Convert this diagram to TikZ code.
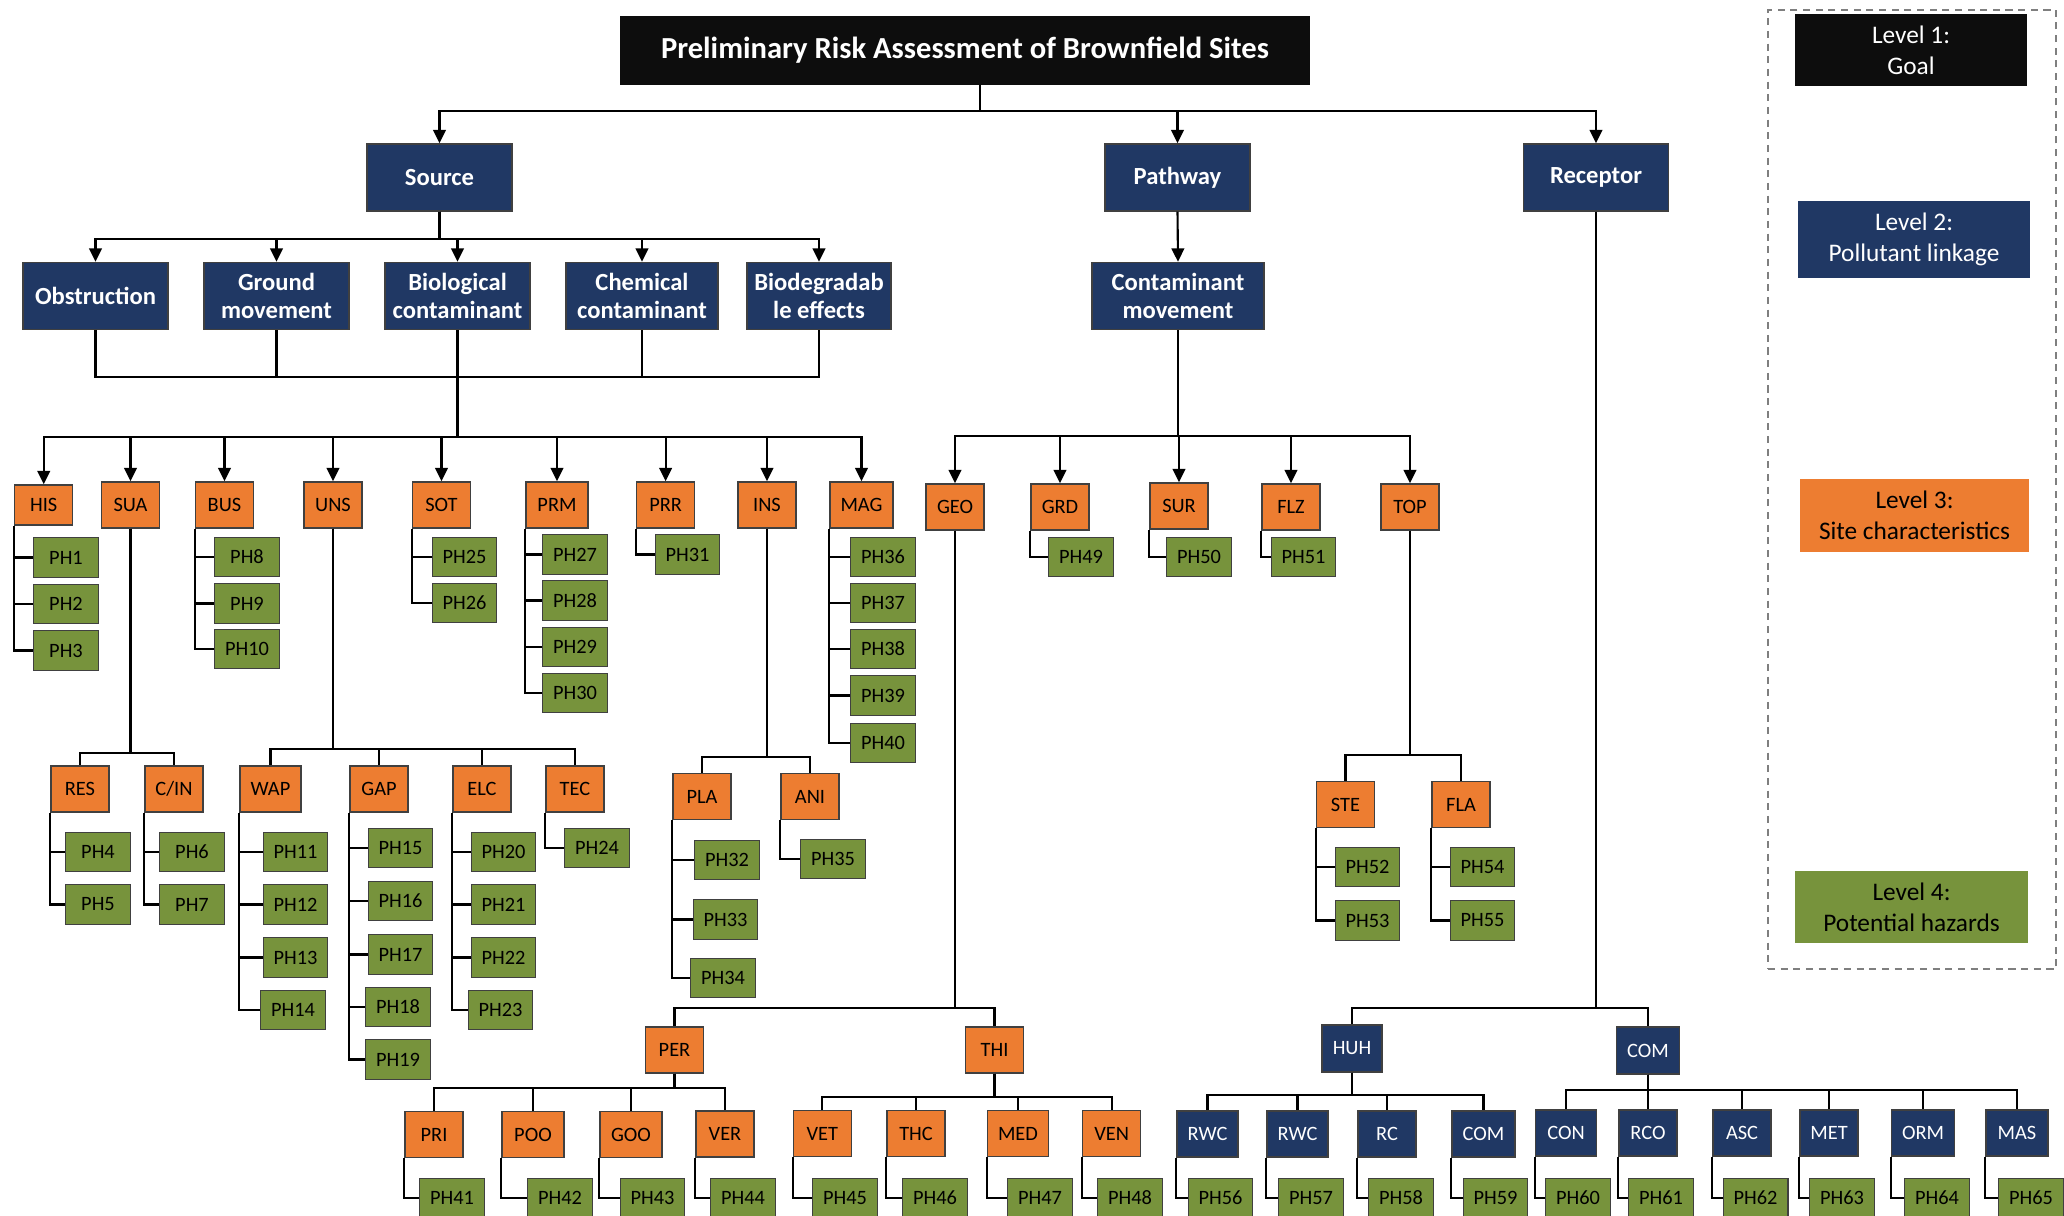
\documentclass[tikz,border=0pt]{standalone}
\usepackage{fontspec}
\setmainfont{Carlito}
\usetikzlibrary{arrows.meta,positioning,calc}

\definecolor{goalblack}{HTML}{0D0D0D}
\definecolor{linknavy}{HTML}{203864}
\definecolor{siteorange}{HTML}{ED7D31}
\definecolor{hazgreen}{HTML}{77933C}
\definecolor{edgegray}{HTML}{404040}
\definecolor{legendgray}{HTML}{7F7F7F}

\begin{document}
\begin{tikzpicture}[
  x=0.01cm, y=-0.01cm,
  >={Triangle[length=3.8pt,width=3.6pt]},
  goalbox/.style={rectangle, fill=goalblack, draw=goalblack, text=white,
                  minimum width=6.88cm, minimum height=0.67cm, font=\fontsize{8.7}{10}\selectfont\bfseries},
  linkbox/.style={rectangle, fill=linknavy, draw=edgegray, line width=0.4pt, text=white,
                  minimum width=1.45cm, minimum height=0.67cm, align=center, inner sep=1pt,
                  font=\fontsize{7}{7.8}\selectfont\bfseries},
  sitebox/.style={rectangle, fill=siteorange, draw=edgegray, line width=0.4pt,
                  minimum width=0.58cm, minimum height=0.46cm, inner sep=1pt, font=\fontsize{5.8}{7}\selectfont},
  recbox/.style={sitebox, fill=linknavy, text=white},
  hazbox/.style={rectangle, fill=hazgreen, draw=edgegray, line width=0.4pt,
                 minimum width=0.645cm, minimum height=0.395cm, inner sep=1pt, font=\fontsize{5.8}{7}\selectfont},
  legbox/.style={rectangle, minimum width=2.32cm, minimum height=0.67cm, align=center,
                 font=\fontsize{7.2}{8.8}\selectfont},
  branch/.style={->, line width=0.6pt, draw=black},
  wire/.style={line width=0.6pt, draw=black},
]
\path[use as bounding box, clip] (0,0) rectangle (2064,1216);

% level 1 and 2
\node[goalbox] (goal) at (965,50.5) {Preliminary Risk Assessment of Brownfield Sites};
\node[linkbox] (src) at (439.5,177.5) {Source};
\node[linkbox] (pth) at (1177.5,177.5) {Pathway};
\node[linkbox] (rcp) at (1596,177.5) {Receptor};

\node[linkbox] (obs) at (95.5,296) {Obstruction};
\node[linkbox] (gmv) at (276.5,296) {Ground\\movement};
\node[linkbox] (bio) at (457.5,296) {Biological\\contaminant};
\node[linkbox, minimum width=1.52cm] (chm) at (642,296) {Chemical\\contaminant};
\node[linkbox, minimum width=1.44cm] (bdg) at (819,296) {Biodegradab\\le effects};
\node[linkbox, minimum width=1.72cm] (cmv) at (1178,296) {Contaminant\\movement};

% level 3, source side
\node[sitebox, minimum height=0.40cm] (his) at (43.75,505) {HIS};
\node[sitebox] (sua) at (130.5,505) {SUA};
\node[sitebox] (bus) at (224.5,505) {BUS};
\node[sitebox] (uns) at (333,505) {UNS};
\node[sitebox] (sot) at (441.5,505) {SOT};
\node[sitebox, minimum width=0.62cm] (prm) at (557,505) {PRM};
\node[sitebox] (prr) at (665.6,505) {PRR};
\node[sitebox] (ins) at (767,505) {INS};
\node[sitebox, minimum width=0.63cm] (mag) at (861.5,505) {MAG};

\node[sitebox] (res) at (80,789) {RES};
\node[sitebox] (cin) at (174,789) {C/IN};
\node[sitebox, minimum width=0.61cm] (wap) at (270.5,789) {WAP};
\node[sitebox] (gap) at (379,789) {GAP};
\node[sitebox] (elc) at (482,789) {ELC};
\node[sitebox] (tec) at (575,789) {TEC};
\node[sitebox] (pla) at (702,796.5) {PLA};
\node[sitebox] (ani) at (810,796.5) {ANI};

% level 3, pathway side
\node[sitebox] (geo) at (955,507) {GEO};
\node[sitebox] (grd) at (1060,507) {GRD};
\node[sitebox] (sur) at (1179,506) {SUR};
\node[sitebox] (flz) at (1291,507) {FLZ};
\node[sitebox] (topo) at (1410,507) {TOP};
\node[sitebox] (ste) at (1345.5,804.5) {STE};
\node[sitebox] (fla) at (1461,804.5) {FLA};

\node[sitebox] (per) at (674.5,1050) {PER};
\node[sitebox] (thi) at (994.5,1050) {THI};
\node[sitebox] (pri) at (434,1134.5) {PRI};
\node[sitebox, minimum width=0.62cm] (poo) at (533,1134.5) {POO};
\node[sitebox, minimum width=0.62cm] (goo) at (631,1134.5) {GOO};
\node[sitebox] (ver) at (725,1134) {VER};
\node[sitebox] (vet) at (822.4,1133.5) {VET};
\node[sitebox] (thc) at (916,1133.5) {THC};
\node[sitebox, minimum width=0.61cm] (med) at (1018,1133.5) {MED};
\node[sitebox] (ven) at (1111.6,1133.5) {VEN};

% receptor side
\node[recbox, minimum width=0.60cm, minimum height=0.47cm] (huh) at (1352,1048.5) {HUH};
\node[recbox, minimum width=0.63cm, minimum height=0.47cm] (com) at (1648,1050.5) {COM};
\node[recbox, minimum width=0.61cm] (rwca) at (1207.5,1134) {RWC};
\node[recbox, minimum width=0.61cm] (rwcb) at (1297.5,1134) {RWC};
\node[recbox] (rc) at (1387,1134) {RC};
\node[recbox, minimum width=0.63cm] (comh) at (1483.5,1134) {COM};
\node[recbox, minimum width=0.61cm] (con) at (1566,1133) {CON};
\node[recbox] (rco) at (1648,1133) {RCO};
\node[recbox] (asc) at (1742,1133) {ASC};
\node[recbox] (met) at (1829,1133) {MET};
\node[recbox, minimum width=0.63cm] (orm) at (1923,1133) {ORM};
\node[recbox, minimum width=0.62cm] (mas) at (2017,1133) {MAS};

% level 4
\node[hazbox] (ph1) at (66,557.5) {PH1};
\node[hazbox] (ph2) at (66,604) {PH2};
\node[hazbox] (ph3) at (66,650.5) {PH3};
\node[hazbox] (ph4) at (98,852) {PH4};
\node[hazbox] (ph5) at (98,904.5) {PH5};
\node[hazbox] (ph6) at (192,852) {PH6};
\node[hazbox] (ph7) at (192,904.5) {PH7};
\node[hazbox] (ph8) at (247,557) {PH8};
\node[hazbox] (ph9) at (247,603.5) {PH9};
\node[hazbox] (ph10) at (247,649) {PH10};
\node[hazbox] (ph11) at (295.5,852) {PH11};
\node[hazbox] (ph12) at (295.5,904.5) {PH12};
\node[hazbox] (ph13) at (295.5,957.5) {PH13};
\node[hazbox] (ph14) at (293,1010) {PH14};
\node[hazbox] (ph15) at (400.5,848) {PH15};
\node[hazbox] (ph16) at (400.5,901) {PH16};
\node[hazbox] (ph17) at (400.5,954.5) {PH17};
\node[hazbox] (ph18) at (398,1007) {PH18};
\node[hazbox] (ph19) at (398,1059.5) {PH19};
\node[hazbox] (ph20) at (503.5,852) {PH20};
\node[hazbox] (ph21) at (503.5,904.5) {PH21};
\node[hazbox] (ph22) at (503.5,957.5) {PH22};
\node[hazbox] (ph23) at (500.5,1010) {PH23};
\node[hazbox] (ph24) at (597,848) {PH24};
\node[hazbox] (ph25) at (464.5,557) {PH25};
\node[hazbox] (ph26) at (464.5,603) {PH26};
\node[hazbox] (ph27) at (575,554.5) {PH27};
\node[hazbox] (ph28) at (575,600.5) {PH28};
\node[hazbox] (ph29) at (575,647) {PH29};
\node[hazbox] (ph30) at (575,693) {PH30};
\node[hazbox] (ph31) at (687.5,554.5) {PH31};
\node[hazbox] (ph32) at (727,860) {PH32};
\node[hazbox] (ph33) at (725.5,919.5) {PH33};
\node[hazbox] (ph34) at (723,978) {PH34};
\node[hazbox] (ph35) at (833,859) {PH35};
\node[hazbox] (ph36) at (883,557) {PH36};
\node[hazbox] (ph37) at (883,603) {PH37};
\node[hazbox] (ph38) at (883,649) {PH38};
\node[hazbox] (ph39) at (883,695.5) {PH39};
\node[hazbox] (ph40) at (883,743) {PH40};
\node[hazbox] (ph41) at (452,1198) {PH41};
\node[hazbox] (ph42) at (560,1198) {PH42};
\node[hazbox] (ph43) at (652.5,1198) {PH43};
\node[hazbox] (ph44) at (743,1198) {PH44};
\node[hazbox] (ph45) at (845,1198) {PH45};
\node[hazbox] (ph46) at (935,1198) {PH46};
\node[hazbox] (ph47) at (1040,1198) {PH47};
\node[hazbox] (ph48) at (1130,1198) {PH48};
\node[hazbox] (ph49) at (1081,557) {PH49};
\node[hazbox] (ph50) at (1199,557) {PH50};
\node[hazbox] (ph51) at (1303.5,557) {PH51};
\node[hazbox] (ph52) at (1367.5,867) {PH52};
\node[hazbox] (ph53) at (1367.5,920.5) {PH53};
\node[hazbox] (ph54) at (1482.5,867) {PH54};
\node[hazbox] (ph55) at (1482.5,920.5) {PH55};
\node[hazbox] (ph56) at (1220.5,1198) {PH56};
\node[hazbox] (ph57) at (1311,1198) {PH57};
\node[hazbox] (ph58) at (1401,1198) {PH58};
\node[hazbox] (ph59) at (1495.5,1198) {PH59};
\node[hazbox] (ph60) at (1578,1198) {PH60};
\node[hazbox] (ph61) at (1661,1198) {PH61};
\node[hazbox] (ph62) at (1755.5,1198) {PH62};
\node[hazbox] (ph63) at (1842,1198) {PH63};
\node[hazbox] (ph64) at (1937,1198) {PH64};
\node[hazbox] (ph65) at (2031,1198) {PH65};

% legend
\node[draw=legendgray, dashed, dash pattern=on 2pt off 1.6pt, line width=0.6pt,
      minimum width=2.88cm, minimum height=9.59cm] (legend) at (1912,489.5) {};
\node[legbox, fill=goalblack, text=white] (leg1) at (1911,50) {Level 1:\\Goal};
\node[legbox, fill=linknavy, text=white] (leg2) at (1914,239.5) {Level 2:\\Pollutant linkage};
\node[legbox, fill=siteorange, minimum width=2.29cm] (leg3) at (1914.5,515.5) {Level 3:\\Site characteristics};
\node[legbox, fill=hazgreen, minimum width=2.33cm] (leg4) at (1911.5,907) {Level 4:\\Potential hazards};

% goal to pollutant linkage
\draw[branch] ([xshift=0.15cm]goal.south) -- ++(0,26) -| (src.north);
\draw[branch] ([xshift=0.15cm]goal.south) -- ++(0,26) -| (pth.north);
\draw[branch] ([xshift=0.15cm]goal.south) -- ++(0,26) -| (rcp.north);

% source
\draw[branch] (src.south) -- ++(0,27) -| (obs.north);
\draw[branch] (src.south) -- ++(0,27) -| (gmv.north);
\draw[branch] (src.south) -- ++(0,27) -| (bio.north);
\draw[branch] (src.south) -- ++(0,27) -| (chm.north);
\draw[branch] (src.south) -- ++(0,27) -| (bdg.north);
\draw[wire] (obs.south) -- ++(0,47) -| (bdg.south);
\draw[wire] (gmv.south) -- ++(0,47);
\draw[wire] (chm.south) -- ++(0,47);
\draw[branch] (bio.south) -- ++(0,107) -| (his.north);
\draw[branch] (bio.south) -- ++(0,107) -| (sua.north);
\draw[branch] (bio.south) -- ++(0,107) -| (bus.north);
\draw[branch] (bio.south) -- ++(0,107) -| (uns.north);
\draw[branch] (bio.south) -- ++(0,107) -| (sot.north);
\draw[branch] (bio.south) -- ++(0,107) -| (prm.north);
\draw[branch] (bio.south) -- ++(0,107) -| (prr.north);
\draw[branch] (bio.south) -- ++(0,107) -| (ins.north);
\draw[branch] (bio.south) -- ++(0,107) -| (mag.north);

\draw[wire] (sua.south) -- ++(0,224) -| (res.north);
\draw[wire] (sua.south) -- ++(0,224) -| (cin.north);
\draw[wire] (uns.south) -- ++(0,220) -| (wap.north);
\draw[wire] (uns.south) -- ++(0,220) -| (gap.north);
\draw[wire] (uns.south) -- ++(0,220) -| (elc.north);
\draw[wire] (uns.south) -- ++(0,220) -| (tec.north);
\draw[wire] (ins.south) -- ++(0,228) -| (pla.north);
\draw[wire] (ins.south) -- ++(0,228) -| (ani.north);

% pathway
\draw[branch] (pth.south) -- (cmv.north);
\draw[branch] (cmv.south) -- ++(0,106) -| (geo.north);
\draw[branch] (cmv.south) -- ++(0,106) -| (grd.north);
\draw[branch] (cmv.south) -- ++(0,106) -| (sur.north);
\draw[branch] (cmv.south) -- ++(0,106) -| (flz.north);
\draw[branch] (cmv.south) -- ++(0,106) -| (topo.north);
\draw[wire] (topo.south) -- ++(0,224) -| (ste.north);
\draw[wire] (topo.south) -- ++(0,224) -| (fla.north);
\draw[wire] (geo.south) -- ++(0,477) -| (per.north);
\draw[wire] (geo.south) -- ++(0,477) -| (thi.north);
\draw[wire] (per.south) -- ++(0,14) -| (pri.north);
\draw[wire] (per.south) -- ++(0,14) -| (poo.north);
\draw[wire] (per.south) -- ++(0,14) -| (goo.north);
\draw[wire] (per.south) -- ++(0,14) -| (ver.north);
\draw[wire] (thi.south) -- ++(0,23) -| (vet.north);
\draw[wire] (thi.south) -- ++(0,23) -| (thc.north);
\draw[wire] (thi.south) -- ++(0,23) -| (med.north);
\draw[wire] (thi.south) -- ++(0,23) -| (ven.north);

% receptor
\draw[wire] (rcp.south) -- ++(0,796) -| (huh.north);
\draw[wire] (rcp.south) -- ++(0,796) -| (com.north);
\draw[wire] (huh.south) -- ++(0,22) -| (rwca.north);
\draw[wire] (huh.south) -- ++(0,22) -| (rwcb.north);
\draw[wire] (huh.south) -- ++(0,22) -| (rc.north);
\draw[wire] (huh.south) -- ++(0,22) -| (comh.north);
\draw[wire] (com.south) -- ++(0,15) -| (con.north);
\draw[wire] (com.south) -- ++(0,15) -| (rco.north);
\draw[wire] (com.south) -- ++(0,15) -| (asc.north);
\draw[wire] (com.south) -- ++(0,15) -| (met.north);
\draw[wire] (com.south) -- ++(0,15) -| (orm.north);
\draw[wire] (com.south) -- ++(0,15) -| (mas.north);

% hazards
\draw[wire] (his.south west) |- (ph1.west);
\draw[wire] (his.south west) |- (ph2.west);
\draw[wire] (his.south west) |- (ph3.west);
\draw[wire] (res.south west) |- (ph4.west);
\draw[wire] (res.south west) |- (ph5.west);
\draw[wire] (cin.south west) |- (ph6.west);
\draw[wire] (cin.south west) |- (ph7.west);
\draw[wire] (bus.south west) |- (ph8.west);
\draw[wire] (bus.south west) |- (ph9.west);
\draw[wire] (bus.south west) |- (ph10.west);
\draw[wire] (wap.south west) |- (ph11.west);
\draw[wire] (wap.south west) |- (ph12.west);
\draw[wire] (wap.south west) |- (ph13.west);
\draw[wire] (wap.south west) |- (ph14.west);
\draw[wire] (gap.south west) |- (ph15.west);
\draw[wire] (gap.south west) |- (ph16.west);
\draw[wire] (gap.south west) |- (ph17.west);
\draw[wire] (gap.south west) |- (ph18.west);
\draw[wire] (gap.south west) |- (ph19.west);
\draw[wire] (elc.south west) |- (ph20.west);
\draw[wire] (elc.south west) |- (ph21.west);
\draw[wire] (elc.south west) |- (ph22.west);
\draw[wire] (elc.south west) |- (ph23.west);
\draw[wire] (tec.south west) |- (ph24.west);
\draw[wire] (sot.south west) |- (ph25.west);
\draw[wire] (sot.south west) |- (ph26.west);
\draw[wire] (prm.south west) |- (ph27.west);
\draw[wire] (prm.south west) |- (ph28.west);
\draw[wire] (prm.south west) |- (ph29.west);
\draw[wire] (prm.south west) |- (ph30.west);
\draw[wire] (prr.south west) |- (ph31.west);
\draw[wire] (pla.south west) |- (ph32.west);
\draw[wire] (pla.south west) |- (ph33.west);
\draw[wire] (pla.south west) |- (ph34.west);
\draw[wire] (ani.south west) |- (ph35.west);
\draw[wire] (mag.south west) |- (ph36.west);
\draw[wire] (mag.south west) |- (ph37.west);
\draw[wire] (mag.south west) |- (ph38.west);
\draw[wire] (mag.south west) |- (ph39.west);
\draw[wire] (mag.south west) |- (ph40.west);
\draw[wire] (pri.south west) |- (ph41.west);
\draw[wire] (poo.south west) |- (ph42.west);
\draw[wire] (goo.south west) |- (ph43.west);
\draw[wire] (ver.south west) |- (ph44.west);
\draw[wire] (vet.south west) |- (ph45.west);
\draw[wire] (thc.south west) |- (ph46.west);
\draw[wire] (med.south west) |- (ph47.west);
\draw[wire] (ven.south west) |- (ph48.west);
\draw[wire] (grd.south west) |- (ph49.west);
\draw[wire] (sur.south west) |- (ph50.west);
\draw[wire] (flz.south west) |- (ph51.west);
\draw[wire] (ste.south west) |- (ph52.west);
\draw[wire] (ste.south west) |- (ph53.west);
\draw[wire] (fla.south west) |- (ph54.west);
\draw[wire] (fla.south west) |- (ph55.west);
\draw[wire] (rwca.south west) |- (ph56.west);
\draw[wire] (rwcb.south west) |- (ph57.west);
\draw[wire] (rc.south west) |- (ph58.west);
\draw[wire] (comh.south west) |- (ph59.west);
\draw[wire] (con.south west) |- (ph60.west);
\draw[wire] (rco.south west) |- (ph61.west);
\draw[wire] (asc.south west) |- (ph62.west);
\draw[wire] (met.south west) |- (ph63.west);
\draw[wire] (orm.south west) |- (ph64.west);
\draw[wire] (mas.south west) |- (ph65.west);

\end{tikzpicture}
\end{document}
